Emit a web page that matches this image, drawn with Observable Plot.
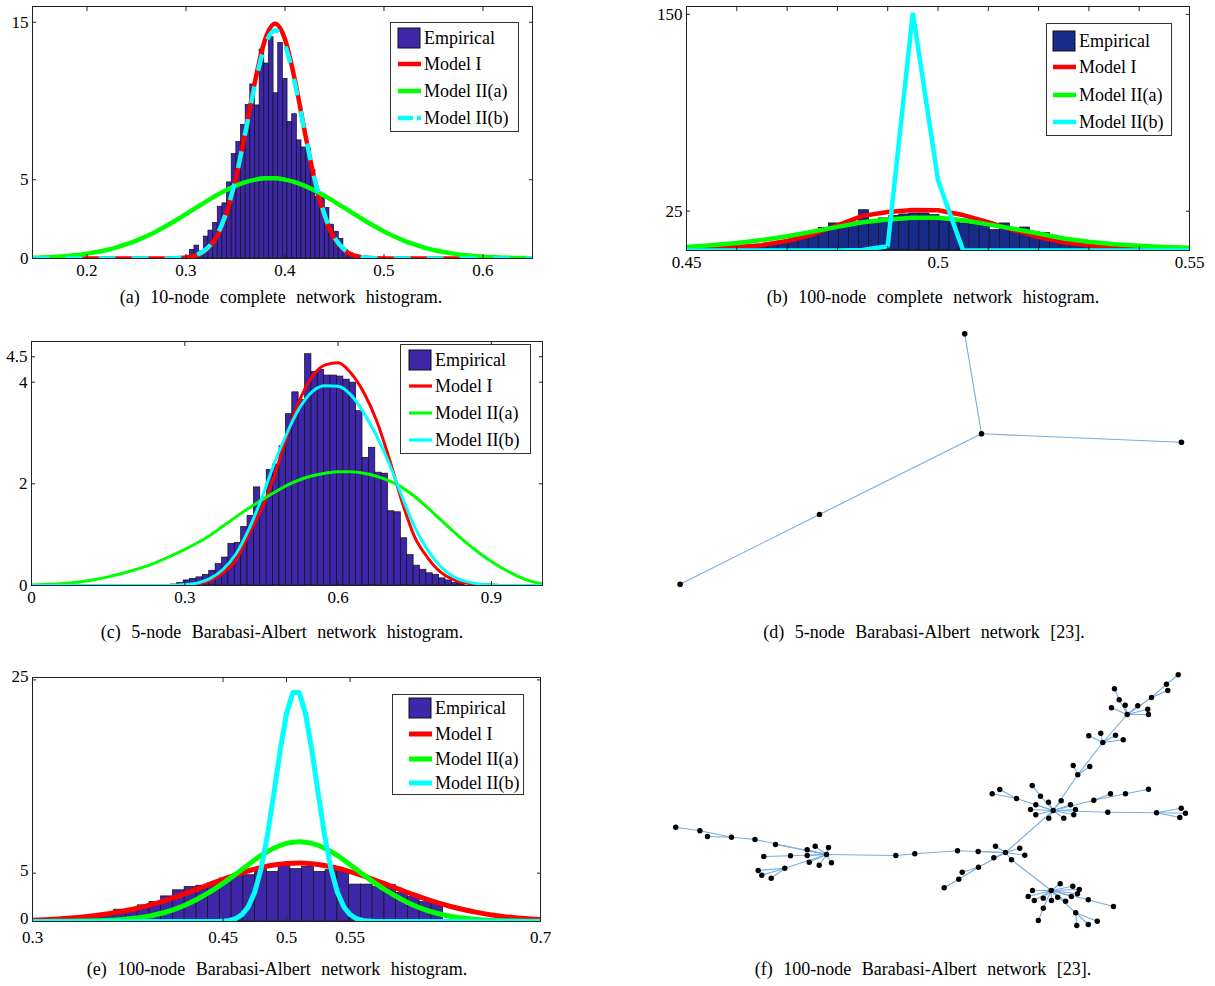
<!DOCTYPE html>
<html><head><meta charset="utf-8">
<script src="https://cdn.jsdelivr.net/npm/d3@7"></script>
<script src="https://cdn.jsdelivr.net/npm/@observablehq/plot@0.6"></script>
<style>
body{margin:0;background:#fff;}
#root{position:relative;width:1215px;height:986px;overflow:hidden;font-family:"Liberation Serif","Times New Roman",serif;color:#000;}
.panel{position:absolute;}
.cap{position:absolute;font-size:18px;line-height:22px;white-space:nowrap;transform:translateX(-50%);word-spacing:6px;}
.leg{position:absolute;overflow:visible;}
</style></head><body><div id="root"></div>
<script>
const seriesNames = ["Empirical", "Model I", "Model II(a)", "Model II(b)"];
const barColor = "#3e26a8", barColorB = "#182a8a";
const cRed = "#ff0000", cGreen = "#00ff00", cCyan = "#00ffff";

// ---------- (a) 10-node complete network ----------
const aBinWidth = 0.0047;
const aBinLeft = [0.3039,0.3086,0.3133,0.318,0.3227,0.3274,0.3321,0.3368,0.3415,0.3462,0.3509,0.3556,0.3603,0.365,0.3697,0.3744,0.3791,0.3838,0.3885,0.3932,0.3979,0.4026,0.4073,0.412,0.4167,0.4214,0.4261,0.4308,0.4355,0.4402,0.4449,0.4496,0.4543,0.459,0.4637,0.4684,0.4731];
const aBinHeight = [0.55,0.82,0.45,1.39,1.77,2.25,3.29,3.5,4.83,6.63,7.41,8.48,9.75,11.05,9.72,13.27,12.38,14.05,10.49,13.69,11.41,8.67,9.16,7.5,7.05,7.0,5.6,3.9,3.85,3.2,2.15,1.7,1.25,0.55,0.35,0.2,0.12];
const aGrid = [0.145,0.15,0.16,0.17,0.18,0.19,0.2,0.21,0.22,0.23,0.24,0.25,0.26,0.27,0.28,0.29,0.3,0.31,0.32,0.33,0.34,0.35,0.36,0.37,0.38,0.39,0.4,0.41,0.42,0.43,0.44,0.45,0.46,0.47,0.48,0.49,0.5,0.51,0.52,0.53,0.54,0.55,0.56,0.57,0.58,0.59,0.6,0.61,0.62,0.63,0.64,0.65];
const aModelI = [0,0,0,0,0,0,0,0,0,0,0,0,0,0,0,0.01,0.06,0.18,0.52,1.26,2.68,4.97,8.04,11.33,13.92,14.9,13.92,11.33,8.04,4.97,2.68,1.26,0.52,0.18,0.06,0.01,0,0,0,0,0,0,0,0,0,0,0,0,0,0,0,0];
const aModelIIa = [0.045,0.055,0.08,0.11,0.16,0.22,0.31,0.41,0.54,0.71,0.91,1.14,1.41,1.72,2.06,2.43,2.82,3.21,3.6,3.98,4.32,4.61,4.85,5.01,5.09,5.09,5.01,4.85,4.61,4.32,3.98,3.6,3.21,2.82,2.43,2.06,1.72,1.41,1.14,0.91,0.71,0.54,0.41,0.31,0.22,0.16,0.11,0.08,0.055,0.037,0.024,0.016];
const aModelIIb = [0,0,0,0,0,0,0,0,0,0,0,0,0,0,0,0.02,0.07,0.21,0.57,1.34,2.78,5.03,8.0,11.13,13.57,14.5,13.57,11.13,8.0,5.03,2.78,1.34,0.57,0.21,0.07,0.02,0,0,0,0,0,0,0,0,0,0,0,0,0,0,0,0];
const aXTicks = [0.2,0.3,0.4,0.5,0.6];
const aYTicks = [0,5,15];

// ---------- (b) 100-node complete network ----------
const bBinWidth = 0.002;
const bBinLeft = [0.4603,0.4623,0.4643,0.4663,0.4683,0.4703,0.4723,0.4743,0.4763,0.4783,0.4803,0.4823,0.4843,0.4863,0.4883,0.4903,0.4923,0.4943,0.4963,0.4983,0.5003,0.5023,0.5043,0.5063,0.5083,0.5103,0.5123,0.5143,0.5163,0.5183,0.5203,0.5223,0.5243,0.5263,0.5283,0.5303,0.5323];
const bBinHeight = [1.5,2.5,3.4,3.9,4.5,6,8.1,11.9,14.4,17.2,15.7,17.8,25.6,19.3,20.4,22,22.9,23.5,23.5,22.5,19.9,19.3,17.2,16.6,15.7,13,17.2,13,14.6,11.5,11,6,3.6,3,2.6,1.5,0.8];
const bGrid = [0.45,0.455,0.46,0.465,0.47,0.475,0.48,0.485,0.49,0.495,0.5,0.505,0.51,0.515,0.52,0.525,0.53,0.535,0.54,0.545,0.55];
const bModelI = [0.8,1.3,2.2,3.4,6,10,16,22,24.5,25.8,25.6,22.5,18,13,8.5,5.2,3.2,1.8,1.0,0.6,0.4];
const bModelIIa = [2.3,3.4,4.8,6.6,9.0,12,15,18,19.7,20.8,20.8,19.2,16.6,13.8,10.8,7.6,5.5,4.0,3.0,2.3,1.8];
const bModelIIb = [0,0,0,0,0,0,0,0.3,2.7,151,44.7,0,0,0,0,0,0,0,0,0,0];
const bXTicks = [0.45,0.46,0.47,0.48,0.49,0.5,0.51,0.52,0.53,0.54,0.55];
const bXLabels = [0.45,0.5,0.55];
const bYTicks = [25,150];

// ---------- (c) 5-node Barabasi-Albert ----------
const cBinWidth = 0.0125;
const cBinLeft = [0.2728,0.2853,0.2978,0.3103,0.3228,0.3353,0.3478,0.3603,0.3728,0.3853,0.3978,0.4103,0.4228,0.4353,0.4478,0.4603,0.4728,0.4853,0.4978,0.5103,0.5228,0.5353,0.5478,0.5603,0.5728,0.5853,0.5978,0.6103,0.6228,0.6353,0.6478,0.6603,0.6728,0.6853,0.6978,0.7103,0.7228,0.7353,0.7478,0.7603,0.7728,0.7853,0.7978,0.8103,0.8228,0.8353];
const cBinHeight = [0.02,0.05,0.1,0.13,0.16,0.21,0.29,0.42,0.55,0.82,0.84,1.15,1.37,1.93,1.68,2.27,2.38,2.74,3.37,3.8,3.65,4.55,4.2,4.24,4.13,4.13,4.11,4.05,3.99,3.43,2.51,2.71,2.22,2.2,1.46,1.44,0.93,0.6,0.39,0.31,0.24,0.21,0.14,0.1,0.05,0.03];
const cGrid = [0,0.025,0.05,0.075,0.1,0.125,0.15,0.175,0.2,0.225,0.25,0.275,0.3,0.325,0.35,0.375,0.4,0.425,0.45,0.475,0.5,0.525,0.55,0.575,0.6,0.625,0.65,0.675,0.7,0.725,0.75,0.775,0.8,0.825,0.85,0.875,0.9,0.925,0.95,0.975,1];
const cModelI = [0,0,0,0,0,0,0,0,0,0,0,0,0.01,0.03,0.1,0.25,0.5,1.0,1.5,2.15,2.95,3.65,4.12,4.34,4.38,4.18,3.8,3.25,2.5,1.65,0.95,0.55,0.27,0.12,0.05,0.02,0.01,0,0,0,0];
const cModelIIa = [0.01,0.02,0.03,0.05,0.08,0.12,0.17,0.23,0.3,0.38,0.48,0.59,0.71,0.84,0.99,1.17,1.35,1.52,1.68,1.83,1.97,2.08,2.16,2.21,2.24,2.24,2.21,2.15,2.06,1.93,1.75,1.53,1.3,1.07,0.85,0.65,0.47,0.32,0.19,0.09,0.03];
const cModelIIb = [0,0,0,0,0,0,0,0,0,0,0,0,0.02,0.05,0.14,0.32,0.62,1.1,1.7,2.4,3.0,3.5,3.82,3.93,3.92,3.75,3.4,2.95,2.4,1.75,1.15,0.7,0.38,0.18,0.08,0.03,0.01,0,0,0,0];
const cXTicks = [0,0.3,0.6,0.9];
const cYTicks = [0,2,4,4.5];

// ---------- (e) 100-node Barabasi-Albert ----------
const eBinWidth = 0.00925;
const eBinLeft = [0.3273,0.3366,0.3458,0.3551,0.3643,0.3736,0.3828,0.3921,0.4013,0.4106,0.4198,0.4291,0.4383,0.4476,0.4568,0.4661,0.4753,0.4846,0.4938,0.5031,0.5123,0.5216,0.5308,0.5401,0.5493,0.5586,0.5678,0.5771,0.5863,0.5956,0.6048,0.6141];
const eBinHeight = [0.35,0.52,0.62,0.73,1.22,1.32,1.67,2.01,2.6,3.23,3.58,3.7,3.95,4.45,4.69,4.79,5.38,5.14,5.83,5.42,5.66,5.14,5.31,5.14,3.82,3.82,3.58,3.76,2.95,2.53,2.01,1.91];
const eGrid = [0.3,0.31,0.32,0.33,0.34,0.35,0.36,0.37,0.38,0.39,0.4,0.41,0.42,0.43,0.44,0.45,0.46,0.47,0.48,0.49,0.5,0.51,0.52,0.53,0.54,0.55,0.56,0.57,0.58,0.59,0.6,0.61,0.62,0.63,0.64,0.65,0.66,0.67,0.68,0.69,0.7];
const eModelI = [0.12,0.18,0.26,0.36,0.48,0.63,0.81,1.03,1.3,1.62,1.98,2.41,2.88,3.37,3.87,4.36,4.83,5.25,5.59,5.85,6.0,6.05,5.98,5.8,5.53,5.17,4.74,4.27,3.77,3.27,2.78,2.32,1.9,1.53,1.21,0.94,0.71,0.53,0.39,0.28,0.2];
const eModelIIa = [0.01,0.01,0.02,0.03,0.05,0.08,0.13,0.21,0.33,0.52,0.8,1.18,1.68,2.32,3.08,3.95,4.9,5.88,6.84,7.59,8.08,8.25,8.08,7.59,6.84,5.88,4.9,3.95,3.08,2.32,1.68,1.18,0.8,0.52,0.33,0.21,0.13,0.08,0.05,0.03,0.02];
const eGridB = [0.3,0.44,0.445,0.45,0.455,0.46,0.465,0.47,0.475,0.48,0.485,0.49,0.495,0.5,0.505,0.51,0.515,0.52,0.525,0.53,0.535,0.54,0.545,0.55,0.555,0.56,0.565,0.57,0.575,0.7];
const eModelIIb = [0,0,0.01,0.04,0.11,0.29,0.71,1.54,3.05,5.48,8.93,13.2,17.7,21.5,23.7,23.7,21.5,17.7,13.2,8.93,5.48,3.05,1.54,0.71,0.29,0.11,0.04,0.01,0,0];
const eXTicks = [0.3,0.45,0.5,0.55,0.7];
const eYTicks = [0,5,25];

// ---------- (d) 5-node network layout ----------
const dNodeX = [964.2,981,1180.9,819,679.6];
const dNodeY = [333.3,433.3,441.7,514,583.7];
const dParent = [1,-1,1,1,3];

// ---------- (f) 100-node network layout ----------
const fNodeX = [826,775,754.5,731,707,699.4,675.2,806.7,806.7,808.7,814.7,828,831,818.7,790,763.3,784.3,757.7,761.3,770.7,
  895.3,914.3,957,977.7,1005,995,1019.3,1024.3,1011,993.3,978,961.7,958.3,943.7,
  1050.7,1032,1027.7,1033.8,1042.8,1042.8,1037.8,1059.7,1072.3,1078.8,1077,1057.2,1065.1,1070.9,1051,1087.8,1113,1075.2,1076.3,1087.8,1096.8,
  1052.7,991.7,999.3,1016,1031.7,1040,1048,1060.7,1070,1035.3,1030,1035.3,1048.3,1063.3,1073.3,1075,1093.3,1110,1125,1148,1107.3,1156,1180.7,1185,1179.3,
  1077.3,1072.7,1089.3,1102.3,1088.3,1100.3,1115,1122.7,1126.7,1114,1118.7,1111,1124.7,1137.3,1147.3,1148,1151,1166,1167.3,1177.7];
const fNodeY = [854,844,839,836.7,836,830.3,826.7,849.3,855,861.7,845.7,847,862.3,864.7,855.3,856,867.7,870,874.7,877.7,
  855,853.3,850.3,851,852,845.7,847.7,854.7,859.3,857.3,866.7,871.7,878.7,887.3,
  890,890,896,900,897.7,907.7,920,883.3,885.7,889,893.3,896.7,900.7,896,900,899.3,906,912.3,925,924,920.7,
  810,793.3,789,798,785,795.7,801.7,800.3,804.3,804.3,809,814.3,817.7,817.7,814.3,809,799.7,793.3,793.3,788.7,811.7,812.3,807.7,812.7,817,
  774.3,765,766,742,735.3,732.7,734.7,739.3,714,688.3,699.3,707.3,704.7,705.3,708.7,714,697,683.7,690,674.3];
const fParent = [-1,0,0,2,3,3,5,0,0,0,0,0,0,0,0,14,0,16,16,16,
  0,20,21,24,22,24,24,24,24,24,24,30,30,32,
  28,34,34,34,34,34,39,34,34,34,34,34,34,34,34,34,49,34,51,51,51,
  24,58,58,55,60,55,55,55,55,55,55,55,55,55,55,55,55,71,71,73,55,75,76,76,76,
  55,80,80,80,83,83,83,83,83,90,88,88,88,88,88,88,88,96,96,97];

// ================= drawing =================
const root = document.getElementById("root");
const font = {fontFamily: "'Liberation Serif','Times New Roman',serif", fontSize: "17px", color: "#000", background: "transparent", overflow: "visible"};
const fmt = d => String(d);

function axesMarks(xTicks, xLabels, yTicks, yLabels, xPad, yDy) {
  return [
    Plot.axisX(xTicks, {anchor: "bottom", tickSize: -4, fill: "none", label: null, stroke: "#222"}),
    Plot.axisX(xTicks, {anchor: "top", tickSize: -4, fill: "none", label: null, stroke: "#222"}),
    Plot.axisY(yTicks, {anchor: "left", tickSize: -4, fill: "none", label: null, stroke: "#222"}),
    Plot.axisY(yTicks, {anchor: "right", tickSize: -4, fill: "none", label: null, stroke: "#222"}),
    Plot.axisX(xLabels, {anchor: "bottom", tickSize: 0, tickPadding: xPad, tickFormat: fmt, label: null}),
    Plot.axisY(yLabels, {anchor: "left", tickSize: 0, tickPadding: 4, tickFormat: fmt, label: null, dy: yDy}),
    Plot.frame({stroke: "#222", strokeWidth: 1})
  ];
}

function place(el, left, top) {
  const d = document.createElement("div");
  d.className = "panel";
  d.style.left = left + "px"; d.style.top = top + "px";
  d.appendChild(el); root.appendChild(d);
}

function histPanel(cfg) {
  const marks = [
    Plot.rectY(cfg.binLeft, {x1: cfg.binLeft, x2: cfg.binLeft.map(v => v + cfg.binWidth), y: cfg.binHeight, fill: cfg.barFill, stroke: "#111", strokeWidth: 0.7}),
    ...cfg.lines.map(l => Plot.line(l.x, {x: l.x, y: l.y, stroke: l.color, strokeWidth: l.width, curve: l.curve || "monotone-x", strokeDasharray: l.dash, strokeLinecap: "butt", strokeLinejoin: l.join || "round", clip: true})),
    ...axesMarks(cfg.xTicks, cfg.xLabels || cfg.xTicks, cfg.yTicks, cfg.yLabels || cfg.yTicks, cfg.xPad || 5, cfg.yDy || 0)
  ];
  const p = Plot.plot({
    width: cfg.width, height: cfg.height,
    marginLeft: cfg.m[3], marginRight: cfg.m[1], marginTop: cfg.m[0], marginBottom: cfg.m[2],
    x: {domain: cfg.xDomain}, y: {domain: cfg.yDomain},
    style: font, marks
  });
  place(p, cfg.left, cfg.top);
}

function legend(cfg) {
  const W = cfg.w, H = cfg.h;
  const svg = d3.create("svg").attr("class", "leg").attr("width", W).attr("height", H)
    .style("left", cfg.left + "px").style("top", cfg.top + "px");
  svg.append("rect").attr("x", 0.5).attr("y", 0.5).attr("width", W - 1).attr("height", H - 1).attr("fill", "#fff").attr("stroke", "#333").attr("stroke-width", 1);
  const colors = [null, cRed, cGreen, cCyan];
  seriesNames.forEach((name, i) => {
    const y = cfg.rows[i];
    if (i === 0) {
      svg.append("rect").attr("x", cfg.sx).attr("y", y - 10).attr("width", 22).attr("height", 20).attr("fill", cfg.barFill).attr("stroke", "#111").attr("stroke-width", 1);
    } else {
      const ln = svg.append("line").attr("x1", cfg.sx).attr("x2", cfg.sx + 23).attr("y1", y).attr("y2", y).attr("stroke", colors[i]).attr("stroke-width", cfg.lw);
      if (i === 3 && cfg.dash) ln.attr("stroke-dasharray", cfg.dash);
    }
    svg.append("text").attr("x", cfg.sx + 26).attr("y", y).attr("dy", "0.35em").attr("font-size", 18).attr("font-family", "'Liberation Serif','Times New Roman',serif").text(name);
  });
  root.appendChild(svg.node());
}

function caption(text, cx, cy) {
  const d = document.createElement("div");
  d.className = "cap"; d.textContent = text;
  d.style.left = cx + "px"; d.style.top = (cy - 11) + "px";
  root.appendChild(d);
}

function network(cfg) {
  const idx = cfg.x.map((_, i) => i);
  const edges = idx.filter(i => cfg.parent[i] >= 0);
  const p = Plot.plot({
    width: cfg.width, height: cfg.height, margin: 0, axis: null,
    x: {domain: cfg.xDomain}, y: {domain: cfg.yDomain, reverse: true},
    style: font,
    marks: [
      Plot.link(edges, {x1: i => cfg.x[i], y1: i => cfg.y[i], x2: i => cfg.x[cfg.parent[i]], y2: i => cfg.y[cfg.parent[i]], stroke: "#78acdc", strokeWidth: 1.1}),
      Plot.dot(idx, {x: i => cfg.x[i], y: i => cfg.y[i], r: cfg.r, fill: "#000", stroke: "none"})
    ]
  });
  place(p, cfg.left, cfg.top);
}

// (a)
histPanel({left: 0, top: 0, width: 545, height: 290, m: [6, 13, 32, 32],
  xDomain: [0.145, 0.65], yDomain: [0, 16], binLeft: aBinLeft, binWidth: aBinWidth, binHeight: aBinHeight, barFill: barColor,
  lines: [
    {x: aGrid, y: aModelI, color: cRed, width: 4.5},
    {x: aGrid, y: aModelIIa, color: cGreen, width: 4.5},
    {x: aGrid, y: aModelIIb, color: cCyan, width: 4.5, dash: "17,16"}
  ], xTicks: aXTicks, yTicks: aYTicks});
legend({left: 390, top: 22, w: 129, h: 110, rows: [16, 42, 69, 96], sx: 8, lw: 4.5, dash: "15,4", barFill: barColor});
caption("(a) 10-node complete network histogram.", 281, 297);

// (b)
histPanel({left: 640, top: 0, width: 575, height: 290, m: [6, 26, 40, 46],
  xDomain: [0.45, 0.55], yDomain: [0, 155], binLeft: bBinLeft, binWidth: bBinWidth, binHeight: bBinHeight, barFill: barColorB,
  lines: [
    {x: bGrid, y: bModelI, color: cRed, width: 4.5, curve: "linear"},
    {x: bGrid, y: bModelIIa, color: cGreen, width: 4.5, curve: "linear"},
    {x: bGrid, y: bModelIIb, color: cCyan, width: 4.5, curve: "linear", join: "miter"}
  ], xTicks: bXTicks, xLabels: bXLabels, yTicks: bYTicks});
legend({left: 1046, top: 23, w: 126, h: 113, rows: [18, 44, 72, 99], sx: 7, lw: 4.5, barFill: barColorB});
caption("(b) 100-node complete network histogram.", 933, 297);

// (c)
histPanel({left: 0, top: 320, width: 560, height: 290, m: [21, 18, 25, 31],
  xDomain: [0, 1], yDomain: [0, 4.8], binLeft: cBinLeft, binWidth: cBinWidth, binHeight: cBinHeight, barFill: barColor,
  lines: [
    {x: cGrid, y: cModelI, color: cRed, width: 3},
    {x: cGrid, y: cModelIIa, color: cGreen, width: 3},
    {x: cGrid, y: cModelIIb, color: cCyan, width: 3}
  ], xTicks: cXTicks, yTicks: cYTicks});
legend({left: 400, top: 344, w: 131, h: 110, rows: [16, 42, 69, 96], sx: 9, lw: 3.2, barFill: barColor});
caption("(c) 5-node Barabasi-Albert network histogram.", 282, 632);

// (d)
network({left: 640, top: 300, width: 575, height: 320, xDomain: [640, 1215], yDomain: [300, 620], x: dNodeX, y: dNodeY, parent: dParent, r: 2.8});
caption("(d) 5-node Barabasi-Albert network [23].", 924, 632);

// (e)
histPanel({left: 0, top: 655, width: 560, height: 300, m: [22, 20, 34, 32], xPad: 9, yDy: -3,
  xDomain: [0.3, 0.7], yDomain: [0, 25.25], binLeft: eBinLeft, binWidth: eBinWidth, binHeight: eBinHeight, barFill: barColor,
  lines: [
    {x: eGrid, y: eModelI, color: cRed, width: 5},
    {x: eGrid, y: eModelIIa, color: cGreen, width: 5},
    {x: eGridB, y: eModelIIb, color: cCyan, width: 5, curve: "linear"}
  ], xTicks: eXTicks, yTicks: eYTicks});
legend({left: 392, top: 694, w: 132, h: 101, rows: [14, 40, 65, 89], sx: 17, lw: 5, barFill: barColor});
caption("(e) 100-node Barabasi-Albert network histogram.", 277, 969);

// (f)
network({left: 640, top: 655, width: 575, height: 290, xDomain: [640, 1215], yDomain: [655, 945], x: fNodeX, y: fNodeY, parent: fParent, r: 2.7});
caption("(f) 100-node Barabasi-Albert network [23].", 923, 969);
</script></body></html>
